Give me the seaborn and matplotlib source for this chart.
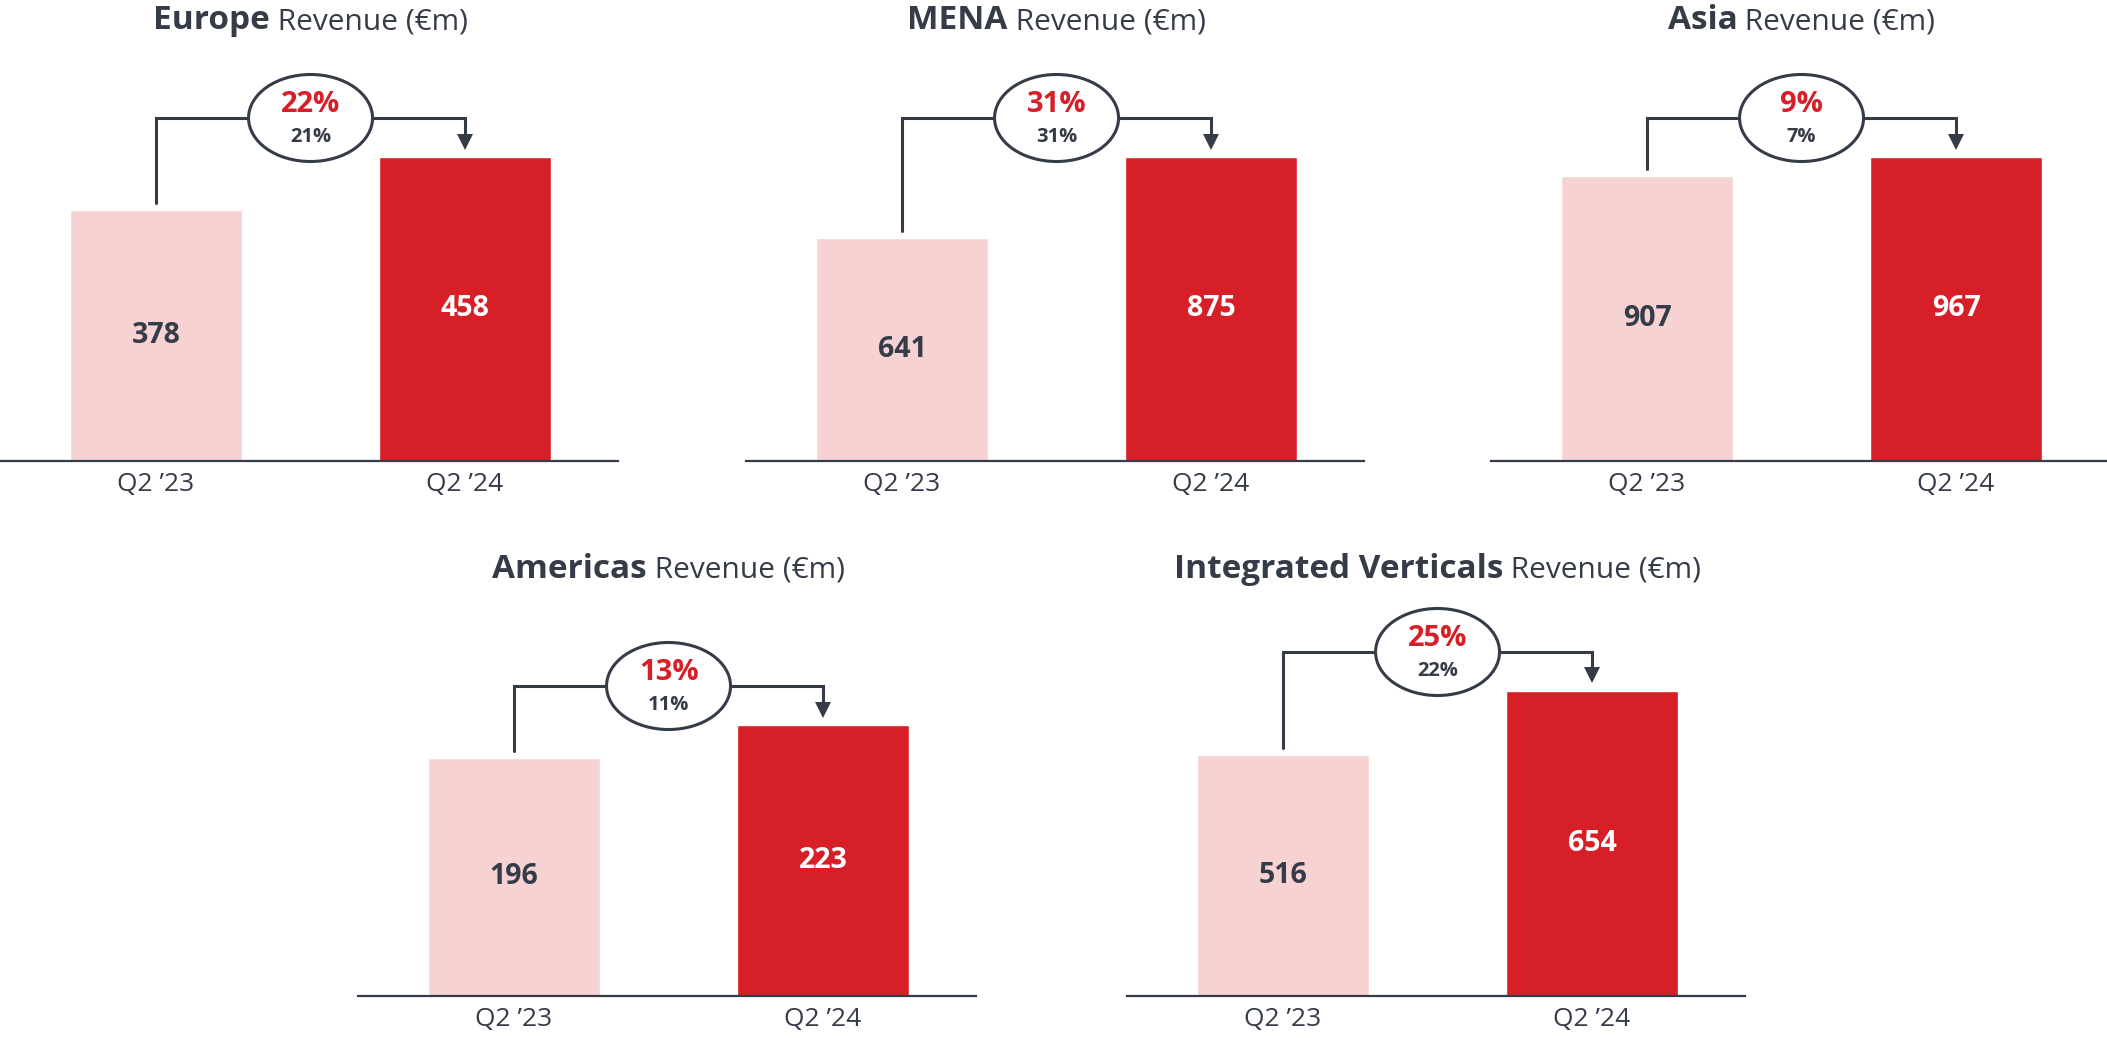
import seaborn as sns
import numpy as np
import pandas as pd
import matplotlib.pyplot as plt
from matplotlib.patches import Ellipse

sns.set_style("white")
plt.rcParams["font.family"] = ["Open Sans", "DejaVu Sans"]

# data
regions = ["Europe", "MENA", "Asia", "Americas", "Integrated Verticals"]
periods = ["Q2 \u201923", "Q2 \u201924"]
rev_q2_23 = [378, 641, 907, 196, 516]
rev_q2_24 = [458, 875, 967, 223, 654]
growth_red = ["22%", "31%", "9%", "13%", "25%"]
growth_dark = ["21%", "31%", "7%", "11%", "22%"]

PINK = "#F7D2D3"
RED = "#D71F28"
DARK = "#353B47"

W, H = 2107, 1038
fig = plt.figure(figsize=(W / 100, H / 100), dpi=100)

# layout in pixels (left edge, baseline of axis), all panels same size
ax_left = [0, 746, 1491, 358, 1127]
ax_base = [461, 461, 461, 996, 996]
title_base = [29, 29, 29, 578, 578]
ax_w, ax_h = 618, 400
tall_px = [304, 304, 304, 271, 305]   # pixel height of the tallest bar

for i, name in enumerate(regions):
    ax = fig.add_axes([ax_left[i] / W, (H - ax_base[i]) / H, ax_w / W, ax_h / H])
    df = pd.DataFrame({"period": periods, "revenue": [rev_q2_23[i], rev_q2_24[i]]})
    sns.barplot(data=df, x="period", y="revenue", hue="period", palette=[PINK, RED],
                width=0.557, saturation=1, legend=False, ax=ax)

    vmax = max(rev_q2_23[i], rev_q2_24[i])
    ymax = ax_h * vmax / tall_px[i]
    ax.set_xlim(-0.505, 1.495)
    ax.set_ylim(0, ymax)
    py = ymax / ax_h          # data units per pixel (y)
    px = 1 / 309.0            # data units per pixel (x)

    for s in ["top", "right", "left"]:
        ax.spines[s].set_visible(False)
    ax.spines["bottom"].set_color(DARK)
    ax.spines["bottom"].set_linewidth(1.6)
    ax.set_yticks([])
    ax.set_xlabel("")
    ax.set_ylabel("")
    ax.tick_params(axis="x", length=0, pad=8, labelsize=19, labelcolor=DARK)

    # value labels
    for j, v in enumerate([rev_q2_23[i], rev_q2_24[i]]):
        ax.text(j, v / 2, str(v), ha="center", va="center", fontsize=20.5,
                fontweight="bold", color=DARK if j == 0 else "white")

    # growth bracket
    y_line = rev_q2_24[i] + 39 * py
    ew, eh = 124 * px, 87 * py
    lw = 2.2
    ax.plot([0, 0, 0.5 - ew / 2], [rev_q2_23[i] + 7 * py, y_line, y_line],
            color=DARK, lw=lw, solid_joinstyle="miter", clip_on=False)
    tip = rev_q2_24[i] + 8 * py
    ax.plot([0.5 + ew / 2, 1, 1], [y_line, y_line, tip + 10 * py],
            color=DARK, lw=lw, solid_joinstyle="miter", clip_on=False)
    ax.plot([1], [tip + 7.5 * py], marker="v", markersize=11, color=DARK,
            markeredgewidth=0, clip_on=False)
    ax.add_patch(Ellipse((0.5, y_line), ew, eh, facecolor="white", edgecolor=DARK,
                         lw=lw, clip_on=False, zorder=5))
    ax.text(0.5, y_line + 13 * py, growth_red[i], ha="center", va="center",
            fontsize=21, fontweight="bold", color=RED, zorder=6)
    ax.text(0.5, y_line - 19 * py, growth_dark[i], ha="center", va="center",
            fontsize=14.5, fontweight="bold", color=DARK, zorder=6)

    # title centred over the two bars
    center_px = ax_left[i] + 156 + 309 / 2
    t1 = fig.text(0, 0, name, fontsize=24, fontweight="bold", color=DARK, va="baseline")
    t2 = fig.text(0, 0, " Revenue (\u20acm)", fontsize=21.5, color=DARK, va="baseline")
    r = fig.canvas.get_renderer()
    w1 = t1.get_window_extent(r).width
    w2 = t2.get_window_extent(r).width
    x0 = center_px - (w1 + w2) / 2
    yb = (H - title_base[i]) / H
    t1.set_position((x0 / W, yb))
    t2.set_position(((x0 + w1) / W, yb))

fig.savefig("out.png", dpi=100)
